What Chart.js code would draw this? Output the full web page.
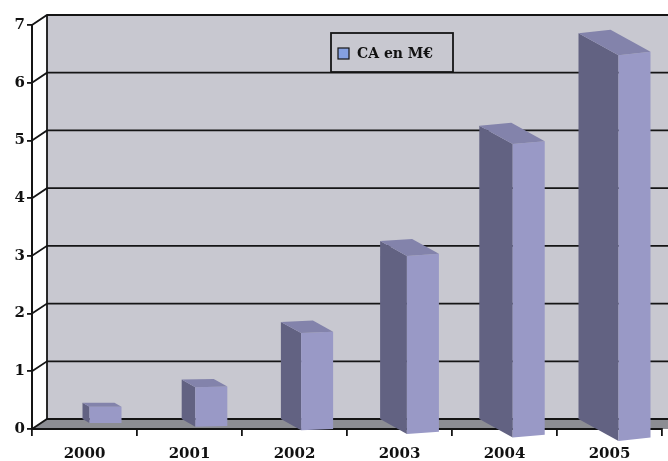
<!DOCTYPE html>
<html>
<head>
<meta charset="utf-8">
<script src="https://cdn.jsdelivr.net/npm/chart.js@4.4.1/dist/chart.umd.min.js"></script>
<style>
  html, body { margin: 0; padding: 0; background: #ffffff; }
  #wrap { width: 668px; height: 461px; }
</style>
</head>
<body>
<div id="wrap"><canvas id="caChart" width="668" height="461"></canvas></div>
<script>
// data
const years = ['2000', '2001', '2002', '2003', '2004', '2005'];
const caValues = [0.3, 0.7, 1.7, 3.1, 5.1, 6.7];
const seriesLabel = 'CA en M€';
const yMin = 0;
const yMax = 7;

const SERIF = "'DejaVu Serif', 'Liberation Serif', serif";

// back wall is shifted from the front axes by this amount
const WALL_DX = 15;
const WALL_DY = -10;

const wallPlugin = {
    id: 'wall3d',
    beforeDraw(chart) {
        const { ctx, chartArea, scales } = chart;
        const y = scales.y;
        const left = chartArea.left;
        const right = chart.width;
        const base = y.getPixelForValue(yMin);
        const top = y.getPixelForValue(yMax);

        ctx.save();
        // back wall
        ctx.fillStyle = '#c8c8d0';
        ctx.fillRect(left + WALL_DX, top + WALL_DY, right - left - WALL_DX, base - top);

        // floor
        ctx.fillStyle = '#8c8d93';
        ctx.beginPath();
        ctx.moveTo(left, base);
        ctx.lineTo(left + WALL_DX, base + WALL_DY);
        ctx.lineTo(right, base + WALL_DY);
        ctx.lineTo(right, base);
        ctx.closePath();
        ctx.fill();

        // gridlines on the wall with slanted connectors to the front axis
        ctx.strokeStyle = '#151515';
        ctx.lineWidth = 1.8;
        y.ticks.forEach(t => {
            const py = y.getPixelForValue(t.value);
            ctx.beginPath();
            ctx.moveTo(left, py);
            ctx.lineTo(left + WALL_DX, py + WALL_DY);
            ctx.lineTo(right, py + WALL_DY);
            ctx.stroke();
        });

        // left edge of back wall
        ctx.beginPath();
        ctx.moveTo(left + WALL_DX, top + WALL_DY);
        ctx.lineTo(left + WALL_DX, base + WALL_DY);
        ctx.stroke();
        ctx.restore();
    }
};

const bars3dPlugin = {
    id: 'bars3d',
    afterDatasetsDraw(chart) {
        const { ctx } = chart;
        const meta = chart.getDatasetMeta(0);
        ctx.save();
        meta.data.forEach((bar, i) => {
            const p = bar.getProps(['x', 'y', 'base', 'width'], true);
            const h = p.base - p.y;
            // perspective grows to the right
            const dx = 7 + 6.6 * i;
            const dy = 4 + 3.6 * i;
            const slant = 0.7 * i;
            const fl = p.x + 5 + 0.8 * i;
            const fr = fl + p.width;
            const fb = p.base + WALL_DY + dy + 1;
            const ft = fb - h;

            // side face
            ctx.fillStyle = '#626282';
            ctx.beginPath();
            ctx.moveTo(fl, ft);
            ctx.lineTo(fl - dx, ft - dy);
            ctx.lineTo(fl - dx, fb - dy);
            ctx.lineTo(fl, fb);
            ctx.closePath();
            ctx.fill();

            // front face
            ctx.fillStyle = '#9999c6';
            ctx.beginPath();
            ctx.moveTo(fl, ft);
            ctx.lineTo(fr, ft - slant);
            ctx.lineTo(fr, fb - slant);
            ctx.lineTo(fl, fb);
            ctx.closePath();
            ctx.fill();

            // top face
            ctx.fillStyle = '#8383ab';
            ctx.beginPath();
            ctx.moveTo(fl, ft);
            ctx.lineTo(fr, ft - slant);
            ctx.lineTo(fr - dx, ft - slant - dy);
            ctx.lineTo(fl - dx, ft - dy);
            ctx.closePath();
            ctx.fill();
        });
        ctx.restore();
    },
    afterDraw(chart) {
        // legend box, placed like the original
        const { ctx } = chart;
        ctx.save();
        ctx.fillStyle = '#c8c8d0';
        ctx.fillRect(331, 33, 122, 39);
        ctx.strokeStyle = '#151515';
        ctx.lineWidth = 1.8;
        ctx.strokeRect(331, 33, 122, 39);
        ctx.fillStyle = '#85a0e0';
        ctx.fillRect(338, 48, 11, 11);
        ctx.lineWidth = 1.2;
        ctx.strokeRect(338, 48, 11, 11);
        ctx.fillStyle = '#111';
        ctx.font = 'bold 14px ' + SERIF;
        ctx.textBaseline = 'middle';
        ctx.fillText(chart.data.datasets[0].label, 357, 54);
        ctx.restore();
    }
};

new Chart(document.getElementById('caChart'), {
    type: 'bar',
    data: {
        labels: years,
        datasets: [{
            label: seriesLabel,
            data: caValues,
            backgroundColor: 'rgba(0,0,0,0)',
            borderWidth: 0,
            categoryPercentage: 1,
            barPercentage: 0.305
        }]
    },
    options: {
        responsive: false,
        animation: false,
        layout: { padding: { top: 25, right: 6, left: 0, bottom: 0 } },
        plugins: {
            legend: { display: false },
            tooltip: { enabled: false }
        },
        scales: {
            x: {
                offset: true,
                grid: {
                    offset: true,
                    drawOnChartArea: false,
                    drawTicks: true,
                    tickLength: 7,
                    color: '#151515',
                    lineWidth: 1.8
                },
                border: { display: true, color: '#151515', width: 2 },
                ticks: {
                    color: '#111',
                    font: { family: SERIF, size: 15, weight: 'bold' },
                    padding: 9,
                    maxRotation: 0
                },
                afterFit(scale) { scale.height = 32; }
            },
            y: {
                min: yMin,
                max: yMax,
                grid: {
                    drawOnChartArea: false,
                    drawTicks: true,
                    tickLength: 5,
                    color: '#151515',
                    lineWidth: 1.8
                },
                border: { display: true, color: '#151515', width: 2 },
                ticks: {
                    stepSize: 1,
                    color: '#111',
                    font: { family: SERIF, size: 15, weight: 'bold' },
                    padding: 2
                },
                afterFit(scale) { scale.width = 32; }
            }
        }
    },
    plugins: [wallPlugin, bars3dPlugin]
});
</script>
</body>
</html>
